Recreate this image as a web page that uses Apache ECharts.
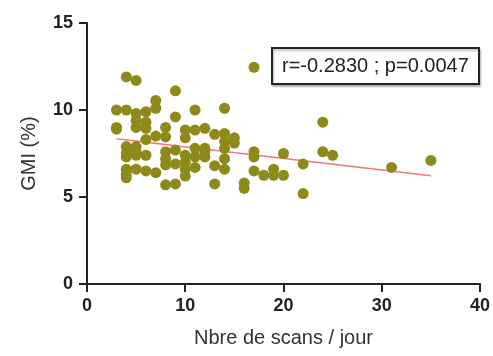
<!DOCTYPE html>
<html>
<head>
<meta charset="utf-8">
<style>
  html, body { margin: 0; padding: 0; background: #fff; }
  #chart { width: 493px; height: 356px; }
</style>
<script src="https://cdn.jsdelivr.net/npm/echarts@6/dist/echarts.min.js"></script>
</head>
<body>
<div id="chart"></div>
<script>
// Scans per day (x) and GMI % (y) for each patient
const scansPerDay = [
  3, 3, 3,
  4, 4, 4, 4, 4, 4, 4, 4,
  5, 5, 5, 5, 5, 5, 5, 5,
  6, 6, 6, 6, 6, 6,
  7, 7, 7, 7,
  8, 8, 8, 8, 8, 8,
  9, 9, 9, 9, 9,
  10, 10, 10, 10, 10, 10,
  11, 11, 11, 11, 11,
  12, 12, 12, 12,
  13, 13, 13,
  14, 14, 14, 14, 14, 14,
  15, 15,
  16, 16,
  17, 17, 17, 17,
  18,
  19, 19,
  20, 20,
  22, 22,
  24, 24,
  25,
  31,
  35
];
const gmiValues = [
  10.0, 9.0, 8.9,
  11.9, 10.0, 7.9, 7.5, 7.3, 6.6, 6.3, 6.1,
  11.7, 9.8, 9.4, 9.0, 7.9, 7.6, 7.4, 6.6,
  9.9, 9.3, 8.95, 8.3, 7.4, 6.5,
  10.55, 10.1, 8.5, 6.4,
  9.0, 8.45, 7.6, 7.2, 6.85, 5.7,
  11.1, 9.6, 7.7, 6.9, 5.75,
  8.85, 8.4, 7.4, 7.0, 6.6, 6.2,
  10.0, 8.85, 7.8, 7.3, 6.7,
  8.95, 7.8, 7.6, 7.3,
  8.6, 6.8, 5.75,
  10.1, 8.65, 8.2, 7.8, 7.2, 6.6,
  8.4, 8.1,
  5.8, 5.5,
  12.45, 7.6, 7.3, 6.5,
  6.25,
  6.6, 6.25,
  7.5, 6.25,
  6.9, 5.2,
  9.3, 7.6,
  7.4,
  6.7,
  7.1
];

// Linear fit endpoints
const fitX = [3, 35];
const fitY = [8.35, 6.22];

const xTicks = [0, 10, 20, 30, 40];
const yTicks = [0, 5, 10, 15];

const statsLabel = 'r=-0.2830 ; p=0.0047';
const xTitle = 'Nbre de scans / jour';
const yTitle = 'GMI (%)';

const points = scansPerDay.map((x, i) => [x, gmiValues[i]]);
const fitLine = fitX.map((x, i) => [x, fitY[i]]);

const FONT = '"Liberation Sans", Arial, Helvetica, sans-serif';
const AXIS_COLOR = '#222';

const axisCommon = {
  axisLine: { show: true, onZero: false, lineStyle: { color: AXIS_COLOR, width: 2 } },
  axisTick: { show: true, length: 8, lineStyle: { color: AXIS_COLOR, width: 2 } },
  splitLine: { show: false },
  axisLabel: { color: '#222', fontFamily: FONT, fontWeight: 'bold', fontSize: 18 },
  nameTextStyle: { color: '#333', fontFamily: FONT, fontSize: 20 },
  nameLocation: 'middle'
};

const chart = echarts.init(document.getElementById('chart'), null, { renderer: 'canvas' });
chart.setOption({
  animation: false,
  backgroundColor: '#fff',
  title: {
    text: statsLabel,
    left: 272,
    top: 48,
    padding: [8, 10],
    borderColor: AXIS_COLOR,
    borderWidth: 2,
    backgroundColor: '#fff',
    shadowColor: 'rgba(0,0,0,0.25)',
    shadowBlur: 2,
    shadowOffsetX: 1,
    shadowOffsetY: 2,
    textStyle: { color: '#222', fontFamily: FONT, fontSize: 20, fontWeight: 'normal' }
  },
  grid: { left: 87, right: 11, top: 23, bottom: 72, containLabel: false },
  xAxis: Object.assign({}, axisCommon, {
    type: 'value',
    min: xTicks[0],
    max: xTicks[xTicks.length - 1],
    interval: 10,
    name: xTitle,
    nameGap: 44,
    axisLabel: Object.assign({}, axisCommon.axisLabel, { margin: 13 })
  }),
  yAxis: Object.assign({}, axisCommon, {
    type: 'value',
    min: yTicks[0],
    max: yTicks[yTicks.length - 1],
    interval: 5,
    name: yTitle,
    nameGap: 48,
    axisLabel: Object.assign({}, axisCommon.axisLabel, { margin: 14 })
  }),
  series: [
    {
      type: 'line',
      data: fitLine,
      symbol: 'none',
      z: 1,
      lineStyle: { color: '#f27878', width: 1.5 }
    },
    {
      type: 'scatter',
      data: points,
      symbol: 'circle',
      symbolSize: 11,
      z: 2,
      itemStyle: { color: '#8d8a1a', opacity: 1 }
    }
  ]
});
</script>
</body>
</html>
